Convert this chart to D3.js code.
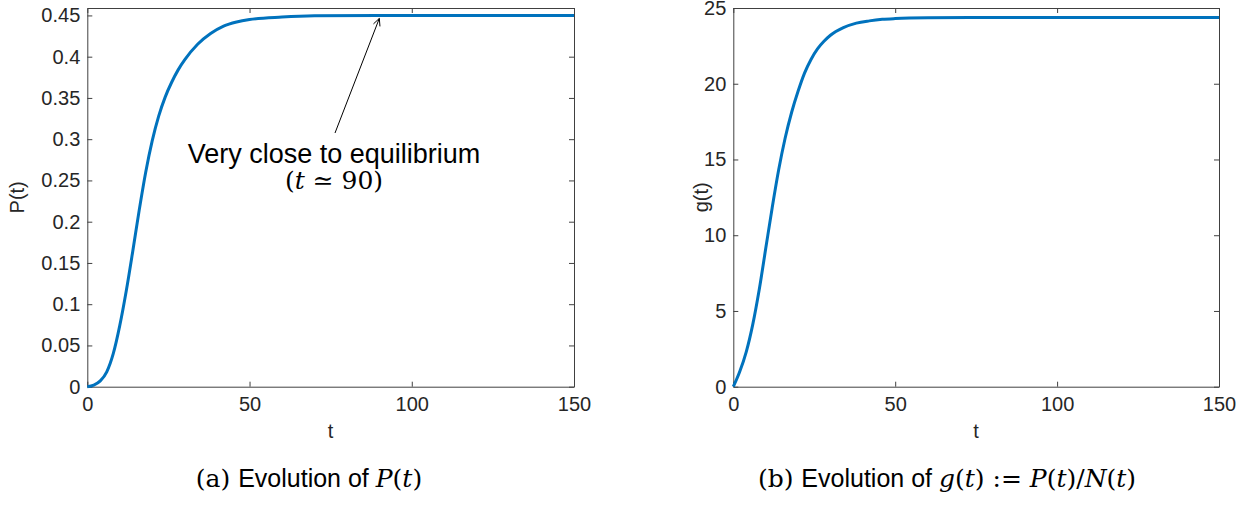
<!DOCTYPE html>
<html>
<head>
<meta charset="utf-8">
<script src="https://cdn.jsdelivr.net/npm/d3@7"></script>
<style>
  body { margin: 0; background: #fff; }
  svg { display: block; }
  .tick text { font-family: "Liberation Sans", Arial, sans-serif; font-size: 20px; fill: #262626; }
  .axisLabel { font-family: "Liberation Sans", Arial, sans-serif; font-size: 20px; fill: #262626; }
  .caption { font-family: "Liberation Sans", Arial, sans-serif; font-size: 25px; fill: #000; }
  .serif { font-family: "DejaVu Serif", "Liberation Serif", serif; }
</style>
</head>
<body>
<svg id="chart" width="1254" height="506"></svg>
<script>
// time points and values
let tP = [0, 2, 4, 6, 8, 10, 12, 14, 16, 18, 20, 22, 24, 26, 28, 30, 34, 38, 42, 46, 50, 60, 70, 90, 120, 150];
let pValues = [0, 0.002, 0.007, 0.018, 0.040, 0.074, 0.116, 0.164, 0.214, 0.260, 0.298, 0.328, 0.351, 0.369,
    0.384, 0.396, 0.415, 0.428, 0.437, 0.442, 0.445, 0.448, 0.4495, 0.45, 0.45, 0.45];

let tG = [0, 2, 4, 6, 8, 10, 12, 14, 16, 18, 20, 22, 24, 26, 28, 30, 34, 38, 42, 46, 50, 60, 80, 100, 150];
let gValues = [0, 1.0, 2.3, 4.1, 6.4, 9.1, 11.8, 14.3, 16.4, 18.1, 19.5, 20.7, 21.6, 22.3, 22.8, 23.2, 23.7,
    24.0, 24.15, 24.25, 24.3, 24.35, 24.37, 24.37, 24.37];

/* tick labels */
let tTicks = [0, 50, 100, 150];
let pTicks = [0, 0.05, 0.1, 0.15, 0.2, 0.25, 0.3, 0.35, 0.4, 0.45];
let gTicks = [0, 5, 10, 15, 20, 25];

let annotT = 90;

let svg = d3.select("svg#chart");
let lineColor = "#0072BD";
let axisColor = "#404040";

function drawPanel(cfg) {
    let xScale = d3.scaleLinear().domain([0, 150]).range([cfg.x0, cfg.x1]);
    let yScale = d3.scaleLinear().domain(cfg.yDomain).range([cfg.y1, cfg.y0]);

    let g = svg.append("g");

    // the box: ticks inward on all four sides, labels only bottom/left
    let bottomAxis = d3.axisBottom(xScale).tickValues(tTicks).tickSizeInner(-5).tickSizeOuter(0)
        .tickPadding(10).tickFormat(d3.format("d"));
    let leftAxis = d3.axisLeft(yScale).tickValues(cfg.yTicks).tickSizeInner(-5).tickSizeOuter(0)
        .tickPadding(7).tickFormat(d => String(d));
    let topAxis = d3.axisTop(xScale).tickValues(tTicks).tickSizeInner(-5).tickSizeOuter(0).tickFormat("");
    let rightAxis = d3.axisRight(yScale).tickValues(cfg.yTicks).tickSizeInner(-5).tickSizeOuter(0).tickFormat("");

    g.append("g").attr("transform", "translate(0," + cfg.y1 + ")").call(bottomAxis);
    g.append("g").attr("transform", "translate(" + cfg.x0 + ",0)").call(leftAxis);
    g.append("g").attr("transform", "translate(0," + cfg.y0 + ")").call(topAxis);
    g.append("g").attr("transform", "translate(" + cfg.x1 + ",0)").call(rightAxis);

    g.selectAll(".domain").attr("stroke", axisColor).attr("stroke-width", 1);
    g.selectAll(".tick line").attr("stroke", axisColor).attr("stroke-width", 1);

    let line = d3.line()
        .x((d, i) => xScale(cfg.tData[i]))
        .y(d => yScale(d))
        .curve(d3.curveMonotoneX);

    g.append("path")
        .datum(cfg.yData)
        .attr("fill", "none")
        .attr("stroke", lineColor)
        .attr("stroke-width", 3)
        .attr("d", line);

    // axis titles
    g.append("text")
        .attr("class", "axisLabel")
        .attr("x", (cfg.x0 + cfg.x1) / 2)
        .attr("y", cfg.y1 + 51)
        .attr("text-anchor", "middle")
        .text("t");
    g.append("text")
        .attr("class", "axisLabel")
        .attr("transform", "translate(" + cfg.yLabelX + "," + ((cfg.y0 + cfg.y1) / 2) + ")rotate(-90)")
        .attr("text-anchor", "middle")
        .text(cfg.yLabel);

    return { xScale: xScale, yScale: yScale, g: g };
}

let plotTop = 8, plotBottom = 386.7;

let panelA = drawPanel({
    x0: 87.3, x1: 574, y0: plotTop, y1: plotBottom,
    yDomain: [0, 0.459], yTicks: pTicks,
    tData: tP, yData: pValues,
    yLabel: "P(t)", yLabelX: 24
});

let panelB = drawPanel({
    x0: 733.3, x1: 1219, y0: plotTop, y1: plotBottom,
    yDomain: [0, 25], yTicks: gTicks,
    tData: tG, yData: gValues,
    yLabel: "g(t)", yLabelX: 708
});

/* annotation with arrow on the left panel */
let ax = panelA.xScale(annotT);
let ay = panelA.yScale(pValues[tP.indexOf(annotT)]) + 3;
let sx = 335, sy = 133;
panelA.g.append("line")
    .attr("x1", sx).attr("y1", sy).attr("x2", ax).attr("y2", ay)
    .attr("stroke", "#000").attr("stroke-width", 1);
let ang = Math.atan2(ay - sy, ax - sx);
let headLen = 8, headSpread = 0.45;
panelA.g.append("path")
    .attr("d", "M" + (ax - headLen * Math.cos(ang - headSpread)) + "," + (ay - headLen * Math.sin(ang - headSpread)) +
        "L" + ax + "," + ay +
        "L" + (ax - headLen * Math.cos(ang + headSpread)) + "," + (ay - headLen * Math.sin(ang + headSpread)))
    .attr("fill", "none").attr("stroke", "#000").attr("stroke-width", 1);

panelA.g.append("text")
    .attr("x", 334).attr("y", 163)
    .attr("text-anchor", "middle")
    .style("font-family", "'Liberation Sans', Arial, sans-serif")
    .style("font-size", "27px")
    .attr("fill", "#000")
    .text("Very close to equilibrium");

let mathLine = panelA.g.append("text")
    .attr("class", "serif")
    .attr("x", 334).attr("y", 189)
    .attr("text-anchor", "middle")
    .style("font-size", "25px")
    .attr("fill", "#000");
mathLine.append("tspan").text("(");
mathLine.append("tspan").style("font-style", "italic").text("t");
mathLine.append("tspan").text(" \u2243 90)");

/* captions */
let capA = svg.append("text").attr("class", "caption").attr("x", 309).attr("y", 487).attr("text-anchor", "middle");
capA.append("tspan").attr("class", "serif").text("(a) ");
capA.append("tspan").text("Evolution of ");
capA.append("tspan").attr("class", "serif").style("font-style", "italic").text("P");
capA.append("tspan").attr("class", "serif").text("(");
capA.append("tspan").attr("class", "serif").style("font-style", "italic").text("t");
capA.append("tspan").attr("class", "serif").text(")");

let capB = svg.append("text").attr("class", "caption").attr("x", 947).attr("y", 487).attr("text-anchor", "middle");
capB.append("tspan").attr("class", "serif").text("(b) ");
capB.append("tspan").text("Evolution of ");
[["g", true], ["(", false], ["t", true], [") := ", false], ["P", true], ["(", false], ["t", true],
 [")/", false], ["N", true], ["(", false], ["t", true], [")", false]].forEach(part => {
    capB.append("tspan").attr("class", "serif")
        .style("font-style", part[1] ? "italic" : "normal")
        .text(part[0]);
});
</script>
</body>
</html>
